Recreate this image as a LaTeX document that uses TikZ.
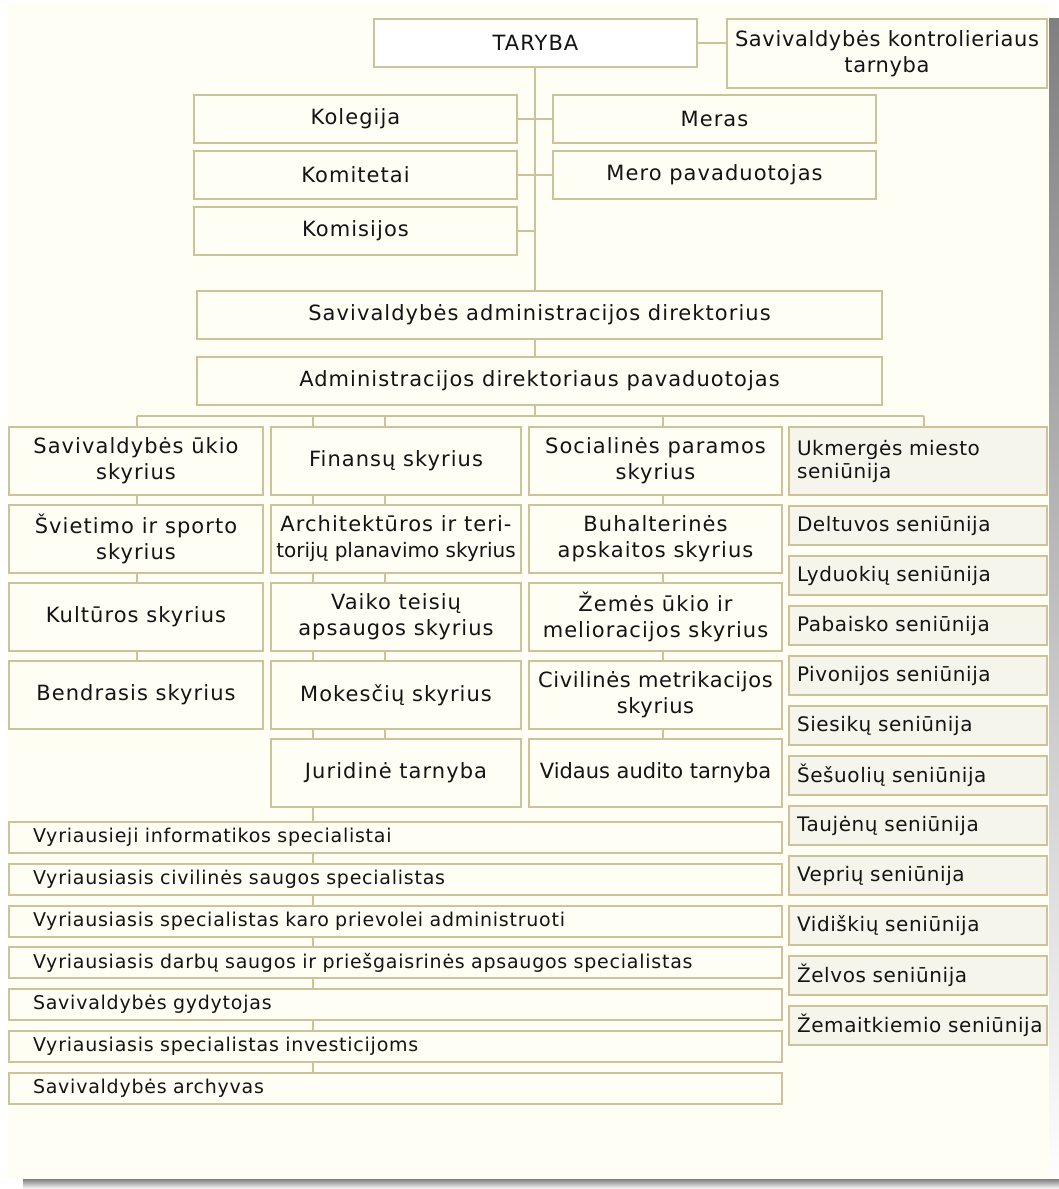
\documentclass[tikz,border=0pt]{standalone}
\usepackage{fontspec}
\setmainfont{DejaVu Sans}[LetterSpace=5]
\newfontfamily\plainfont{DejaVu Sans}
\newfontfamily\snugfont{DejaVu Sans}[LetterSpace=3]
\newfontfamily\rowfont{DejaVu Sans}[LetterSpace=4]
\definecolor{paper}{RGB}{255,254,245}
\definecolor{edge}{RGB}{207,194,155}
\definecolor{shade}{RGB}{128,128,128}
\definecolor{ink}{RGB}{20,20,20}
\definecolor{wardfill}{RGB}{246,245,236}
\begin{document}
\begin{tikzpicture}[x=1pt,y=-1pt,
  unit/.style={draw=edge, line width=2pt, fill=paper, rectangle, inner sep=0pt,
    text=ink, font=\fontsize{21}{26}\selectfont, align=center},
  council/.style={unit, fill=white},
  dept/.style={unit, minimum height=68pt},
  ward/.style={unit, fill=wardfill, minimum width=258pt, text width=242pt, align=left,
    font=\snugfont\fontsize{20}{23}\selectfont},
  staff/.style={unit, minimum width=773pt, minimum height=31pt, text width=725pt, align=left,
    font=\rowfont\fontsize{19}{22}\selectfont},
  link/.style={draw=edge, line width=2pt}]
\useasboundingbox (0,0) rectangle (1059,1189);
% page with drop shadow
\fill[white] (0,0) rectangle (1059,1189);
\fill[paper] (8,3) rectangle (1049,1179);
\fill[shade] (1049,18) rectangle (1059,1189);
\fill[shade] (23,1179) rectangle (1059,1189);

% council level
\node[council, minimum width=323pt, minimum height=48pt] (taryba) at (535.5,43) {TARYBA};
\node[unit, minimum width=320pt, minimum height=69pt, font=\snugfont\fontsize{21}{26}\selectfont]
  (kontrol) at (887,53.5) {Savivaldybės kontrolieriaus\\tarnyba};
\node[unit, minimum width=323pt, minimum height=48pt] (kolegija) at (355.5,119) {Kolegija};
\node[unit, minimum width=323pt, minimum height=48pt] (meras) at (714.5,119) {Meras};
\node[unit, minimum width=323pt, minimum height=48pt] (komitetai) at (355.5,175) {Komitetai};
\node[unit, minimum width=323pt, minimum height=48pt] (meropav) at (714.5,175) {Mero pavaduotojas};
\node[unit, minimum width=323pt, minimum height=48pt] (komisijos) at (355.5,231) {Komisijos};

% administration heads
\node[unit, minimum width=685pt, minimum height=48pt] (direktorius) at (539.5,315)
  {Savivaldybės administracijos direktorius};
\node[unit, minimum width=685pt, minimum height=48pt] (pavaduotojas) at (539.5,381)
  {Administracijos direktoriaus pavaduotojas};

% departments, first column
\node[dept, minimum width=254pt] (a1) at (136,461) {Savivaldybės ūkio\\skyrius};
\node[dept, minimum width=254pt] (a2) at (136,539) {Švietimo ir sporto\\skyrius};
\node[dept, minimum width=254pt] (a3) at (136,617) {Kultūros skyrius};
\node[dept, minimum width=254pt] (a4) at (136,695) {Bendrasis skyrius};
% second column
\node[dept, minimum width=250pt] (b1) at (396,461) {Finansų skyrius};
\node[dept, minimum width=250pt] (b2) at (396,539)
  {Architektūros ir teri-\\{\plainfont\fontsize{20}{26}\selectfont torijų planavimo skyrius}};
\node[dept, minimum width=250pt] (b3) at (396,617) {Vaiko teisių\\apsaugos skyrius};
\node[dept, minimum width=250pt] (b4) at (396,695) {Mokesčių skyrius};
\node[dept, minimum width=250pt] (b5) at (396,773) {Juridinė tarnyba};
% third column
\node[dept, minimum width=253pt] (c1) at (655.5,461) {Socialinės paramos\\skyrius};
\node[dept, minimum width=253pt] (c2) at (655.5,539) {Buhalterinės\\apskaitos skyrius};
\node[dept, minimum width=253pt] (c3) at (655.5,617) {Žemės ūkio ir\\melioracijos skyrius};
\node[dept, minimum width=253pt, font=\snugfont\fontsize{21}{26}\selectfont] (c4) at (655.5,695)
  {Civilinės metrikacijos\\skyrius};
\node[dept, minimum width=253pt, font=\plainfont\fontsize{21}{26}\selectfont] (c5) at (655.5,773)
  {Vidaus audito tarnyba};

% elderships
\node[ward, minimum height=68pt] (w0) at (918,461) {Ukmergės miesto\\seniūnija};
\foreach \name [count=\k from 0] in {Deltuvos, Lyduokių, Pabaisko, Pivonijos, Siesikų,
    Šešuolių, Taujėnų, Veprių, Vidiškių, Želvos, Žemaitkiemio}
  \node[ward, minimum height=39pt] (w\the\numexpr\k+1\relax) at (918,525.5+50*\k)
    {\mbox{\name\ seniūnija}};

% specialists
\node[staff] (s1) at (395.5,837.5) {Vyriausieji informatikos specialistai};
\node[staff] (s2) at (395.5,879.3) {Vyriausiasis civilinės saugos specialistas};
\node[staff] (s3) at (395.5,921.1) {Vyriausiasis specialistas karo prievolei administruoti};
\node[staff] (s4) at (395.5,962.9) {\mbox{Vyriausiasis darbų saugos ir priešgaisrinės apsaugos specialistas}};
\node[staff] (s5) at (395.5,1004.7) {Savivaldybės gydytojas};
\node[staff] (s6) at (395.5,1046.5) {Vyriausiasis specialistas investicijoms};
\node[staff] (s7) at (395.5,1088.3) {Savivaldybės archyvas};

% connector anchors
\coordinate (trunk) at (535,416);
\coordinate (busL) at (137,416);
\coordinate (busR) at (924,416);
\coordinate (lane2a) at (313,416);
\coordinate (lane2b) at (385,416);
\coordinate (lane3) at (663,416);

% council connectors
\path[link] (taryba.east) -- (taryba.east -| kontrol.west);
\path[link] (trunk |- taryba.south) -- (trunk |- direktorius.north);
\path[link] (kolegija.east) -- (meras.west);
\path[link] (komitetai.east) -- (meropav.west);
\path[link] (komisijos.east) -- (komisijos.east -| trunk);
\path[link] (trunk |- direktorius.south) -- (trunk |- pavaduotojas.north);
\path[link] (trunk |- pavaduotojas.south) -- (trunk);

% distribution bus
\path[link] (busL) -- (busR);
\path[link] (busL) -- (busL |- a1.north);
\path[link] (lane2a) -- (lane2a |- b1.north);
\path[link] (lane2b) -- (lane2b |- b1.north);
\path[link] (lane3) -- (lane3 |- c1.north);
\path[link] (busR) -- (busR |- w0.north);

% column chains
\foreach \u/\v in {a1/a2, a2/a3, a3/a4}
  \path[link] (busL |- \u.south) -- (busL |- \v.north);
\foreach \u/\v in {b1/b2, b2/b3, b3/b4, b4/b5} {
  \path[link] (lane2a |- \u.south) -- (lane2a |- \v.north);
  \path[link] (lane2b |- \u.south) -- (lane2b |- \v.north);
}
\foreach \u/\v in {c1/c2, c2/c3, c3/c4, c4/c5}
  \path[link] (lane3 |- \u.south) -- (lane3 |- \v.north);
\foreach \u/\v in {b5/s1, s1/s2, s2/s3, s3/s4, s4/s5, s5/s6, s6/s7}
  \path[link] (lane2a |- \u.south) -- (lane2a |- \v.north);
\end{tikzpicture}
\end{document}
